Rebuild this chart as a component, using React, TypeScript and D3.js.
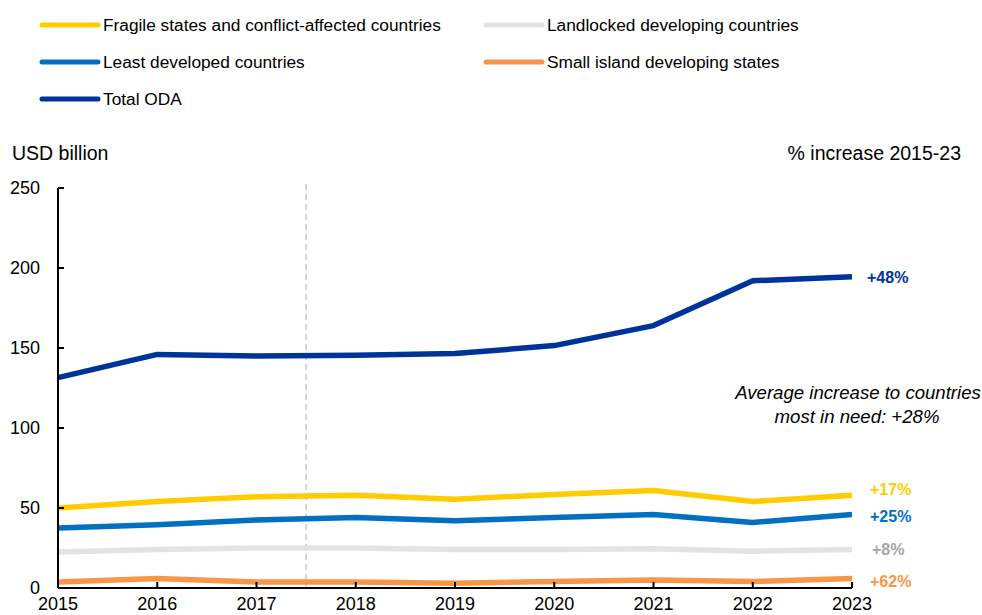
import React from 'react';
import * as d3 from 'd3';

const years = [2015, 2016, 2017, 2018, 2019, 2020, 2021, 2022, 2023];
const totalOda = [131.5, 146, 145, 145.5, 146.5, 151.5, 164, 192, 194.5];
const fragile = [50, 54, 57, 58, 55.5, 58.5, 61, 54, 58];
const leastDeveloped = [37.5, 39.5, 42.5, 44, 42, 44, 46, 41, 46];
const landlocked = [22.5, 24, 25, 25, 24, 24, 24.5, 23, 24];
const smallIsland = [3.7, 6, 3.7, 3.8, 3, 4, 5, 4, 6];
const yTicks = [0, 50, 100, 150, 200, 250];

const series = [
  { name: 'Landlocked developing countries', values: landlocked, color: '#e3e3e3' },
  { name: 'Small island developing states', values: smallIsland, color: '#f79646' },
  { name: 'Least developed countries', values: leastDeveloped, color: '#0070c0' },
  { name: 'Fragile states and conflict-affected countries', values: fragile, color: '#ffcc00' },
  { name: 'Total ODA', values: totalOda, color: '#003399' },
];

// legend order as in the picture
const legendItems = [
  { name: 'Fragile states and conflict-affected countries', color: '#ffcc00' },
  { name: 'Landlocked developing countries', color: '#e3e3e3' },
  { name: 'Least developed countries', color: '#0070c0' },
  { name: 'Small island developing states', color: '#f79646' },
  { name: 'Total ODA', color: '#003399' },
];

const W = 982;
const H = 615;
const margin = { left: 58, right: 130, top: 188, bottom: 27 };
const font = 'Arial, "Liberation Sans", sans-serif';

export default function App() {
  const x = d3.scaleLinear().domain([2015, 2023]).range([margin.left, W - margin.right]);
  const y = d3.scaleLinear().domain([0, 250]).range([H - margin.bottom, margin.top]);

  const line = d3.line<number>()
    .x((_, i) => x(years[i]))
    .y(d => y(d));

  return (
    <svg width={W} height={H} style={{ position: 'absolute', left: 0, top: 0, background: '#fff' }} fontFamily={font}>
      {/* legend */}
      {legendItems.map((item, i) => {
        const col = i % 2;
        const row = Math.floor(i / 2);
        const lx = col === 0 ? 40 : 484;
        const ly = 25 + row * 37;
        return (
          <g key={item.name}>
            <line x1={lx + 2} x2={lx + 58} y1={ly} y2={ly} stroke={item.color} strokeWidth={5} strokeLinecap="round" />
            <text x={lx + 63} y={ly} dy="0.35em" fontSize={17.3} fill="#000">{item.name}</text>
          </g>
        );
      })}

      <text x={12} y={153} dy="0.35em" fontSize={19.5}>USD billion</text>
      <text x={961} y={153} dy="0.35em" fontSize={19.5} textAnchor="end">% increase 2015-23</text>

      {/* dashed marker */}
      <line x1={x(2017.5)} x2={x(2017.5)} y1={184} y2={y(0)} stroke="#c8c8c8" strokeWidth={1.5} strokeDasharray="6,4" />

      {/* series */}
      {series.map(s => (
        <path key={s.name} d={line(s.values) || ''} fill="none" stroke={s.color} strokeWidth={5.5} strokeLinejoin="round" />
      ))}

      {/* axes */}
      <line x1={x(2015)} x2={x(2015)} y1={y(250)} y2={y(0)} stroke="#000" strokeWidth={2} />
      <line x1={x(2015)} x2={x(2023)} y1={y(0)} y2={y(0)} stroke="#000" strokeWidth={2} />
      {yTicks.map(t => (
        <g key={t}>
          <line x1={x(2015)} x2={x(2015) + 6} y1={y(t)} y2={y(t)} stroke="#000" strokeWidth={2} />
          <text x={40} y={y(t)} dy="0.35em" fontSize={18} textAnchor="end">{t}</text>
        </g>
      ))}
      {years.map(yr => (
        <g key={yr}>
          <line x1={x(yr)} x2={x(yr)} y1={y(0)} y2={y(0) - 6} stroke="#000" strokeWidth={2} />
          <text x={x(yr)} y={604} dy="0.35em" fontSize={18} textAnchor="middle">{yr}</text>
        </g>
      ))}

      {/* end labels */}
      <text x={867} y={277} dy="0.35em" fontSize={16} fontWeight="bold" fill="#003399">+48%</text>
      <text x={870} y={489} dy="0.35em" fontSize={16} fontWeight="bold" fill="#ffcc00">+17%</text>
      <text x={870} y={516} dy="0.35em" fontSize={16} fontWeight="bold" fill="#0070c0">+25%</text>
      <text x={872} y={549} dy="0.35em" fontSize={16} fontWeight="bold" fill="#a6a6a6">+8%</text>
      <text x={870} y={581} dy="0.35em" fontSize={16} fontWeight="bold" fill="#f79646">+62%</text>

      {/* annotation */}
      <text x={858} y={392} dy="0.35em" fontSize={18.6} fontStyle="italic" textAnchor="middle">Average increase to countries</text>
      <text x={857} y={416} dy="0.35em" fontSize={18.6} fontStyle="italic" textAnchor="middle">most in need: +28%</text>
    </svg>
  );
}
